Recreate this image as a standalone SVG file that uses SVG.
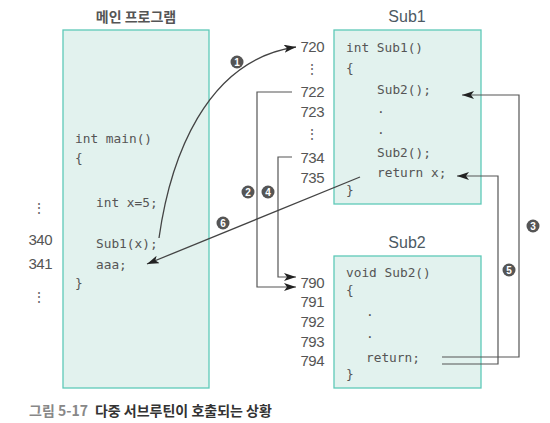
<svg xmlns="http://www.w3.org/2000/svg" width="550" height="423" viewBox="0 0 550 423">
<defs>
<style>
.box{fill:#e2f2ee;stroke:#5ec9b8;stroke-width:1.3}
.title{font-family:"Liberation Sans","Noto Sans CJK KR",sans-serif;font-size:16px;fill:#4d5a63;text-anchor:middle}
.ktitle{font-family:"Noto Sans CJK KR",sans-serif;font-size:14px;font-weight:bold;fill:#555;text-anchor:middle}
.code{font-family:"DejaVu Sans Mono","Liberation Mono",monospace;font-size:12.8px;fill:#555}
.num{font-family:"Liberation Sans",sans-serif;font-size:15px;fill:#555;text-anchor:end;letter-spacing:-0.5px}
.dots{font-family:"Liberation Sans",sans-serif;font-size:14px;fill:#666;text-anchor:middle}
.conn{fill:none;stroke:#555;stroke-width:1.2}
.curve{fill:none;stroke:#444;stroke-width:1.3}
.badge circle{fill:#555}
.badge text{font-family:"Liberation Sans",sans-serif;font-size:10px;font-weight:bold;fill:#fff;text-anchor:middle}
.cap1{font-family:"Noto Sans CJK KR",sans-serif;font-size:14px;fill:#888;font-weight:bold}
.cap2{font-family:"Noto Sans CJK KR",sans-serif;font-size:14px;fill:#333;font-weight:bold}
</style>
<marker id="arr" markerWidth="12" markerHeight="8" refX="12" refY="4" orient="auto" markerUnits="userSpaceOnUse">
<path d="M0,0 L12,4 L0,8 L3,4 Z" fill="#222"/>
</marker>
</defs>
<rect width="550" height="423" fill="#fff"/>

<g id="main">
<text class="ktitle" x="136" y="22">메인 프로그램</text>
<rect class="box" x="63" y="30" width="146" height="358"/>
<text class="code" x="75" y="143">int main()</text>
<text class="code" x="75" y="162">{</text>
<text class="code" x="96" y="207">int x=5;</text>
<text class="code" x="96" y="248">Sub1(x);</text>
<text class="code" x="96" y="269">aaa;</text>
<text class="code" x="75" y="287">}</text>
</g>

<g id="main-addr">
<text class="dots" x="39" y="213">⋮</text>
<text class="num" x="52" y="245">340</text>
<text class="num" x="52" y="269">341</text>
<text class="dots" x="39" y="302">⋮</text>
</g>

<g id="sub1">
<text class="title" x="407" y="22">Sub1</text>
<rect class="box" x="334" y="30" width="147" height="174"/>
<text class="code" x="346" y="52">int Sub1()</text>
<text class="code" x="346" y="72">{</text>
<text class="code" x="377" y="94">Sub2();</text>
<text class="code" x="377" y="113">.</text>
<text class="code" x="377" y="134">.</text>
<text class="code" x="377" y="157">Sub2();</text>
<text class="code" x="377" y="177">return x;</text>
<text class="code" x="346" y="194">}</text>
</g>

<g id="sub1-addr">
<text class="num" x="324" y="52">720</text>
<text class="dots" x="312" y="74">⋮</text>
<text class="num" x="324" y="97">722</text>
<text class="num" x="324" y="117">723</text>
<text class="dots" x="312" y="139">⋮</text>
<text class="num" x="324" y="163">734</text>
<text class="num" x="324" y="183">735</text>
</g>

<g id="sub2">
<text class="title" x="407" y="248">Sub2</text>
<rect class="box" x="334" y="256" width="147" height="132"/>
<text class="code" x="346" y="277">void Sub2()</text>
<text class="code" x="346" y="294">{</text>
<text class="code" x="366" y="316">.</text>
<text class="code" x="366" y="338">.</text>
<text class="code" x="366" y="362">return;</text>
<text class="code" x="346" y="378">}</text>
</g>

<g id="sub2-addr">
<text class="num" x="324" y="288">790</text>
<text class="num" x="324" y="307">791</text>
<text class="num" x="324" y="327">792</text>
<text class="num" x="324" y="347">793</text>
<text class="num" x="324" y="366">794</text>
</g>

<g id="connectors">
<path class="curve" d="M159,238 C170,160 205,60 296,47" marker-end="url(#arr)"/>
<path class="conn" d="M292,92 H257 V287 H296" marker-end="url(#arr)"/>
<path class="conn" d="M442,357 H519 V95 H462" marker-end="url(#arr)"/>
<path class="conn" d="M292,157 H278 V277 H296" marker-end="url(#arr)"/>
<path class="conn" d="M442,364 H498 V176 H457" marker-end="url(#arr)"/>
<path class="curve" d="M360,177 L147,264" marker-end="url(#arr)"/>
</g>

<g id="badges" class="badge">
<g><circle cx="237" cy="62" r="6.5"/><text x="237" y="65.6">1</text></g>
<g><circle cx="248" cy="192" r="6.5"/><text x="248" y="195.6">2</text></g>
<g><circle cx="533" cy="226" r="6.5"/><text x="533" y="229.6">3</text></g>
<g><circle cx="268" cy="192" r="6.5"/><text x="268" y="195.6">4</text></g>
<g><circle cx="509" cy="270" r="6.5"/><text x="509" y="273.6">5</text></g>
<g><circle cx="223" cy="223" r="6.5"/><text x="223" y="226.6">6</text></g>
</g>

<g id="caption">
<text x="29" y="416"><tspan class="cap1">그림 5-17</tspan><tspan class="cap2" dx="7">다중 서브루틴이 호출되는 상황</tspan></text>
</g>
</svg>
